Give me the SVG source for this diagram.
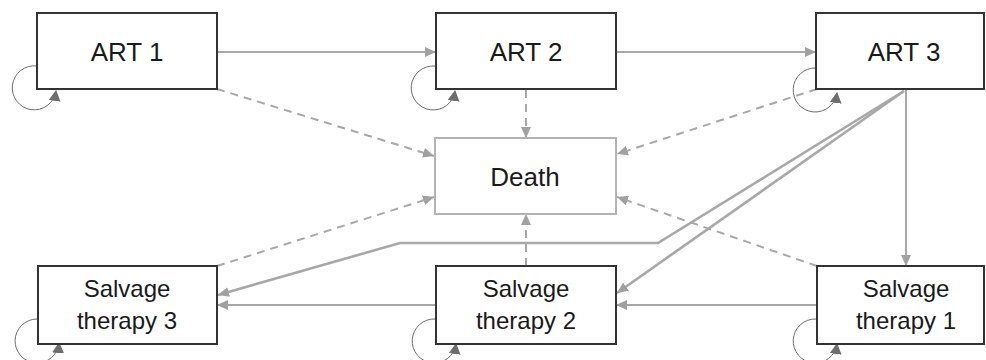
<svg xmlns="http://www.w3.org/2000/svg" width="986" height="360" viewBox="0 0 986 360">
<style>
.box{fill:#fff;stroke:#333;stroke-width:2}
.death{fill:#fff;stroke:#b3b3b3;stroke-width:2}
.t{font-family:"Liberation Sans",Arial,sans-serif;fill:#1a1a1a;text-anchor:middle}
.big{font-size:26px}
.sm{font-size:24px}
.c{fill:none;stroke:#a8a8a8;stroke-width:2}
.d{stroke-dasharray:8,6}
.thick{stroke-width:2.6}
.loop{fill:none;stroke:#6e6e6e;stroke-width:1}
</style>
<defs>
<marker id="ah" markerUnits="userSpaceOnUse" markerWidth="12" markerHeight="10" refX="11" refY="5" orient="auto"><path d="M0,0 L11,5 L0,10 z" fill="#a0a0a0"/></marker>
<marker id="lh" markerUnits="userSpaceOnUse" markerWidth="12" markerHeight="12" refX="10" refY="6" orient="auto"><path d="M0,0 L11,6 L0,12 z" fill="#6e6e6e"/></marker>
</defs>
<g id="connectors">
<path class="c" d="M217,52 L436,52" marker-end="url(#ah)"/>
<path class="c" d="M616,52 L816,52" marker-end="url(#ah)"/>
<path class="c d" d="M217,89 L434,156" marker-end="url(#ah)"/>
<path class="c d" d="M526,90 L526,138" marker-end="url(#ah)"/>
<path class="c d" d="M817,89 L617,154" marker-end="url(#ah)"/>
<path class="c d" d="M217,266 L434,197" marker-end="url(#ah)"/>
<path class="c d" d="M526,266 L526,214" marker-end="url(#ah)"/>
<path class="c d" d="M817,266 L617,197" marker-end="url(#ah)"/>
<path class="c" d="M906,90 L906,266" marker-end="url(#ah)"/>
<path class="c" d="M817,305 L616,305" marker-end="url(#ah)"/>
<path class="c" d="M436,305 L217,305" marker-end="url(#ah)"/>
<path class="c thick" d="M904,91 L617,293" marker-end="url(#ah)"/>
<path class="c thick" d="M904,91 L658,243 L400,243 L218,295" marker-end="url(#ah)"/>
<path class="loop" d="M37,66 A22,22 0 1 0 56,91" marker-end="url(#lh)"/>
<path class="loop" d="M435,66 A22,22 0 1 0 455,91" marker-end="url(#lh)"/>
<path class="loop" d="M816,68 A22,22 0 1 0 837,93" marker-end="url(#lh)"/>
<path class="loop" d="M37,319 A22,22 0 1 0 59,343" marker-end="url(#lh)"/>
<path class="loop" d="M435,319 A22,22 0 1 0 456,344" marker-end="url(#lh)"/>
<path class="loop" d="M816,319 A22,22 0 1 0 837,344" marker-end="url(#lh)"/>
</g>
<g id="art1"><rect class="box" x="37" y="13" width="180" height="76"/><text class="t big" x="127" y="61">ART 1</text></g>
<g id="art2"><rect class="box" x="436" y="13" width="180" height="76"/><text class="t big" x="526" y="61">ART 2</text></g>
<g id="art3"><rect class="box" x="816" y="13" width="168" height="76"/><text class="t big" x="904" y="61">ART 3</text></g>
<g id="death"><rect class="death" x="435" y="138" width="181" height="76"/><text class="t big" x="525" y="186">Death</text></g>
<g id="st3"><rect class="box" x="38" y="266" width="179" height="78"/><text class="t sm" x="127" y="297">Salvage</text><text class="t sm" x="127" y="329">therapy 3</text></g>
<g id="st2"><rect class="box" x="436" y="266" width="180" height="78"/><text class="t sm" x="526" y="297">Salvage</text><text class="t sm" x="526" y="329">therapy 2</text></g>
<g id="st1"><rect class="box" x="817" y="266" width="167" height="78"/><text class="t sm" x="906" y="297">Salvage</text><text class="t sm" x="906" y="329">therapy 1</text></g>
</svg>
